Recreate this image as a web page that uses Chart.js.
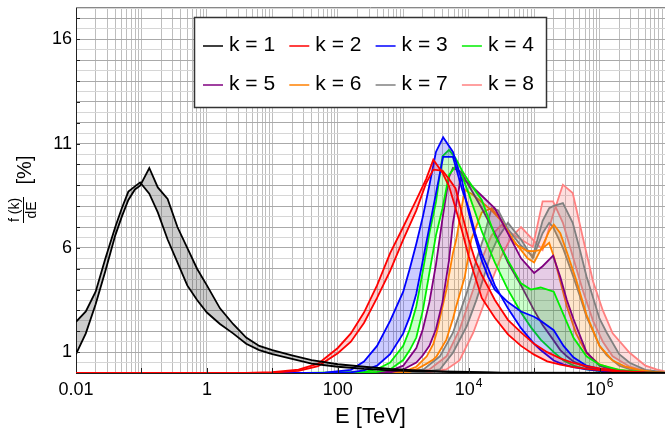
<!DOCTYPE html>
<html>
<head>
<meta charset="utf-8">
<script src="https://cdn.jsdelivr.net/npm/chart.js@4.4.1/dist/chart.umd.min.js"></script>
<style>
  body { margin: 0; background: #fff; }
</style>
</head>
<body>
<canvas id="myChart" width="665" height="432"></canvas>
<script>
const kLabels = ['k = 1', 'k = 2', 'k = 3', 'k = 4', 'k = 5', 'k = 6', 'k = 7', 'k = 8'];
const xTickValues = [0.01, 1, 100, 1e4, 1e6];
const xTickLabels = ['0.01', '1', '100', '10^4', '10^6'];
const yTickValues = [1, 6, 11, 16];

// log10(E / TeV) sample points and the two bounding curves of each band, in %
const logE1 = [-2, -1.85, -1.7, -1.55, -1.4, -1.3, -1.2, -1.1, -1.02, -0.88, -0.75, -0.6, -0.45, -0.3, -0.15, 0, 0.2, 0.4, 0.6, 0.8, 1.0, 1.3, 1.6, 2.0, 2.4, 2.8, 3.2, 3.6, 4.0, 4.5, 7];
const k1A = [2.45, 2.95, 3.9, 5.5, 7.0, 7.9, 8.7, 8.95, 9.14, 8.6, 7.7, 6.4, 5.3, 4.2, 3.5, 2.9, 2.35, 1.9, 1.4, 1.1, 0.9, 0.68, 0.45, 0.3, 0.2, 0.13, 0.08, 0.05, 0.03, 0.01, 0];
const k1B = [0.9, 1.9, 3.3, 4.9, 6.6, 7.5, 8.3, 8.8, 8.98, 9.83, 8.9, 8.35, 7.0, 6.0, 5.0, 4.2, 3.1, 2.35, 1.7, 1.3, 1.1, 0.85, 0.62, 0.42, 0.3, 0.2, 0.13, 0.08, 0.05, 0.02, 0];

const logE2 = [-2, 0.6, 1.0, 1.4, 1.7, 2.0, 2.2, 2.4, 2.6, 2.8, 3.0, 3.2, 3.35, 3.46, 3.6, 3.7, 3.8, 3.9, 4.0, 4.1, 4.2, 4.4, 4.6, 4.8, 5.0, 5.2, 5.4, 5.6, 5.8, 6.0, 6.3, 6.7, 7];
const k2A = [0, 0, 0.04, 0.16, 0.45, 1.2, 1.9, 2.9, 4.2, 5.75, 7.0, 8.3, 9.3, 10.23, 9.6, 8.95, 7.9, 6.8, 5.6, 4.6, 3.6, 2.65, 1.85, 1.3, 0.88, 0.56, 0.4, 0.28, 0.2, 0.14, 0.07, 0.02, 0];
const k2B = [0, 0, 0.02, 0.1, 0.33, 0.95, 1.5, 2.4, 3.6, 4.9, 6.4, 7.8, 9.1, 9.75, 9.7, 9.3, 8.85, 7.6, 6.4, 5.4, 4.7, 3.5, 2.55, 1.95, 1.4, 1.0, 0.7, 0.48, 0.33, 0.22, 0.1, 0.03, 0];

const logE3 = [-2, 1.0, 1.8, 2.2, 2.4, 2.6, 2.8, 3.0, 3.1, 3.2, 3.3, 3.4, 3.5, 3.61, 3.76, 3.9, 4.0, 4.1, 4.2, 4.3, 4.4, 4.6, 4.8, 5.0, 5.1, 5.3, 5.45, 5.6, 5.8, 6.0, 6.3, 6.7, 7];
const k3A = [0, 0, 0.02, 0.15, 0.55, 1.3, 2.5, 3.9, 5.0, 6.2, 7.5, 9.0, 10.6, 11.3, 10.6, 9.2, 7.7, 6.5, 5.4, 4.6, 4.0, 3.4, 2.95, 2.7, 2.5, 2.05, 1.3, 0.75, 0.35, 0.2, 0.08, 0.02, 0];
const k3B = [0, 0, 0, 0.03, 0.12, 0.35, 0.9, 1.9, 2.7, 3.8, 5.4, 7.0, 8.6, 10.36, 10.36, 8.8, 7.9, 6.7, 5.7, 5.0, 4.2, 3.1, 2.15, 1.4, 1.1, 0.6, 0.4, 0.28, 0.17, 0.1, 0.04, 0.01, 0];

const logE4 = [-2, 1.5, 2.4, 2.6, 2.8, 3.0, 3.1, 3.2, 3.3, 3.4, 3.5, 3.6, 3.7, 3.8, 3.9, 4.0, 4.2, 4.4, 4.6, 4.8, 4.95, 5.1, 5.3, 5.45, 5.6, 5.8, 6.0, 6.3, 6.7, 7];
const k4A = [0, 0, 0.05, 0.18, 0.5, 1.3, 2.1, 3.2, 4.9, 6.7, 8.2, 10.4, 10.7, 10.3, 9.7, 9.2, 8.3, 6.6, 5.4, 4.3, 4.0, 4.1, 3.9, 2.8, 1.7, 0.8, 0.4, 0.15, 0.04, 0];
const k4B = [0, 0, 0, 0.05, 0.17, 0.62, 1.1, 1.7, 3.0, 4.8, 6.6, 7.9, 9.5, 9.9, 9.45, 8.6, 6.8, 5.3, 4.0, 2.9, 2.2, 1.6, 1.0, 0.6, 0.36, 0.18, 0.1, 0.04, 0.01, 0];

const logE5 = [-2, 2.0, 2.6, 2.8, 3.0, 3.2, 3.3, 3.4, 3.5, 3.6, 3.7, 3.76, 3.88, 4.0, 4.2, 4.4, 4.6, 4.8, 5.0, 5.13, 5.29, 5.4, 5.5, 5.6, 5.8, 6.0, 6.2, 6.5, 7];
const k5A = [0, 0, 0.03, 0.1, 0.35, 1.2, 2.1, 3.4, 5.2, 7.4, 9.4, 9.83, 9.65, 9.0, 7.9, 6.7, 5.3, 4.2, 3.0, 2.3, 1.6, 1.1, 0.8, 0.55, 0.28, 0.13, 0.06, 0.02, 0];
const k5B = [0, 0, 0.01, 0.03, 0.17, 0.5, 0.85, 1.3, 2.1, 3.4, 5.4, 7.2, 9.35, 9.1, 8.5, 7.9, 6.7, 5.5, 4.8, 5.12, 5.63, 4.6, 3.5, 2.6, 1.0, 0.35, 0.15, 0.05, 0];

const logE6 = [-2, 2.4, 2.8, 3.1, 3.2, 3.36, 3.46, 3.51, 3.66, 3.76, 3.81, 3.94, 4.04, 4.2, 4.35, 4.5, 4.7, 4.9, 5.0, 5.1, 5.23, 5.3, 5.4, 5.5, 5.64, 5.8, 6.0, 6.2, 6.4, 6.6, 6.8, 7];
const k6A = [0, 0, 0.04, 0.17, 0.3, 0.8, 1.4, 1.93, 4.0, 5.76, 6.4, 8.79, 8.6, 8.2, 7.8, 7.3, 6.3, 5.5, 5.3, 5.9, 6.8, 7.12, 6.7, 5.8, 4.5, 2.8, 1.3, 0.6, 0.3, 0.15, 0.06, 0.02];
const k6B = [0, 0, 0.01, 0.06, 0.17, 0.45, 0.65, 0.8, 1.6, 2.6, 3.2, 4.6, 6.4, 7.7, 7.9, 7.3, 6.2, 5.85, 5.84, 5.9, 6.24, 5.6, 4.4, 3.2, 1.9, 0.95, 0.41, 0.2, 0.1, 0.05, 0.02, 0];

const logE7 = [-2, 2.6, 3.0, 3.31, 3.56, 3.76, 3.97, 4.12, 4.22, 4.35, 4.45, 4.6, 4.8, 4.98, 5.13, 5.23, 5.29, 5.44, 5.59, 5.7, 5.8, 6.0, 6.11, 6.3, 6.46, 6.7, 7];
const k7A = [0, 0, 0.05, 0.17, 0.8, 1.93, 3.84, 5.44, 6.4, 7.9, 7.8, 6.9, 6.1, 5.6, 7.3, 7.9, 8.0, 8.15, 7.2, 5.9, 4.64, 2.6, 1.93, 0.9, 0.49, 0.15, 0.03];
const k7B = [0, 0, 0.01, 0.04, 0.17, 0.97, 2.24, 3.52, 4.5, 5.8, 6.5, 7.2, 6.4, 5.5, 6.7, 7.2, 7.0, 6.0, 4.7, 3.68, 2.7, 1.3, 0.85, 0.35, 0.18, 0.06, 0.01];

const logE8 = [-2, 2.8, 3.2, 3.4, 3.66, 3.86, 4.07, 4.22, 4.35, 4.5, 4.65, 4.8, 4.98, 5.13, 5.29, 5.44, 5.59, 5.74, 5.9, 6.05, 6.2, 6.46, 6.7, 6.87, 7];
const k8A = [0, 0, 0.05, 0.17, 0.8, 2.08, 4.0, 5.6, 6.6, 7.1, 6.7, 6.4, 6.05, 8.23, 8.23, 7.2, 5.6, 4.0, 2.5, 1.5, 0.8, 0.3, 0.1, 0.05, 0.02];
const k8B = [0, 0, 0.01, 0.04, 0.17, 0.6, 1.93, 3.2, 4.4, 5.6, 6.5, 7.0, 6.4, 5.9, 7.6, 9.03, 8.63, 6.56, 4.4, 3.0, 1.9, 0.97, 0.35, 0.17, 0.08];

const lineColors = ['#000000', '#ff0000', '#0000ff', '#00ee00', '#800080', '#ff8000', '#808080', '#ff8080'];
const fillColors = ['rgba(0,0,0,0.2)', 'rgba(255,0,0,0.18)', 'rgba(0,0,255,0.2)', 'rgba(0,255,0,0.2)',
                    'rgba(128,0,128,0.2)', 'rgba(255,128,0,0.2)', 'rgba(128,128,128,0.28)', 'rgba(255,128,128,0.25)'];

const bands = [[logE1, k1A, k1B], [logE2, k2A, k2B], [logE3, k3A, k3B], [logE4, k4A, k4B],
               [logE5, k5A, k5B], [logE6, k6A, k6B], [logE7, k7A, k7B], [logE8, k8A, k8B]];

const FONT = '"Liberation Sans", Arial, sans-serif';
Chart.defaults.font.family = FONT;
Chart.defaults.color = '#000';

const datasets = [];
bands.forEach(([logE, a, b], i) => {
  const pts = arr => logE.map((l, j) => ({ x: Math.pow(10, l), y: arr[j] }));
  const common = { borderColor: lineColors[i], borderWidth: 1.8, pointRadius: 0, tension: 0 };
  datasets.push({ ...common, label: kLabels[i], data: pts(a), fill: false });
  datasets.push({ ...common, label: kLabels[i], data: pts(b), fill: '-1', backgroundColor: fillColors[i] });
});

// grid positions: 1..9 x 10^n on x, every 0.5 on y
const xGrid = [];
for (let e = -2; e <= 6; e++) for (let m = 1; m <= 9; m++) xGrid.push(m * Math.pow(10, e));
xGrid.push(1e7);
const yGrid = [];
for (let v = 0; v <= 17.5; v += 0.5) yGrid.push(v);

const extras = {
  id: 'extras',
  afterDraw(chart) {
    const { ctx, chartArea: a, scales: { x, y } } = chart;
    ctx.save();
    // top frame line
    ctx.strokeStyle = '#888';
    ctx.lineWidth = 1;
    ctx.beginPath();
    ctx.moveTo(a.left, a.top + 0.5);
    ctx.lineTo(a.right, a.top + 0.5);
    ctx.stroke();

    // small inward tick marks
    ctx.strokeStyle = '#222';
    ctx.beginPath();
    for (let e = -1; e <= 6; e++) {
      const px = Math.round(x.getPixelForValue(Math.pow(10, e))) + 0.5;
      ctx.moveTo(px, a.bottom);
      ctx.lineTo(px, a.bottom - 5);
    }
    for (let v = 1; v <= 17; v++) {
      const py = Math.round(y.getPixelForValue(v)) + 0.5;
      ctx.moveTo(a.left, py);
      ctx.lineTo(a.left + 4, py);
    }
    ctx.stroke();

    // x tick labels with superscript exponents
    ctx.fillStyle = '#000';
    ctx.textBaseline = 'alphabetic';
    ctx.textAlign = 'left';
    xTickValues.forEach((v, i) => {
      const [base, exp] = xTickLabels[i].split('^');
      ctx.font = '18px ' + FONT;
      const wb = ctx.measureText(base).width;
      let we = 0;
      if (exp) { ctx.font = '12px ' + FONT; we = ctx.measureText(exp).width + 1; }
      const left = x.getPixelForValue(v) - (wb + we) / 2;
      ctx.font = '18px ' + FONT;
      ctx.fillText(base, left, a.bottom + 22);
      if (exp) { ctx.font = '12px ' + FONT; ctx.fillText(exp, left + wb + 1, a.bottom + 14); }
    });

    // y axis title: fraction f(k)/dE and [%]
    ctx.save();
    ctx.translate(23, 210);
    ctx.rotate(-Math.PI / 2);
    ctx.textAlign = 'center';
    ctx.textBaseline = 'middle';
    ctx.font = '14px ' + FONT;
    ctx.fillText('f (k)', 0, -8);
    ctx.fillText('dE', 0, 9);
    ctx.strokeStyle = '#000';
    ctx.lineWidth = 1;
    ctx.beginPath();
    ctx.moveTo(-13, 0.5);
    ctx.lineTo(13, 0.5);
    ctx.stroke();
    ctx.font = '20px ' + FONT;
    ctx.fillText('[%]', 40, 2);
    ctx.restore();

    // legend box
    ctx.fillStyle = '#fff';
    ctx.fillRect(194.5, 17.5, 352, 90);
    ctx.strokeStyle = '#333';
    ctx.lineWidth = 1.5;
    ctx.strokeRect(194.5, 17.5, 352, 90);
    ctx.font = '21px ' + FONT;
    ctx.textBaseline = 'middle';
    ctx.textAlign = 'left';
    kLabels.forEach((t, i) => {
      const lx = 203 + (i % 4) * 86.3;
      const ly = 45 + Math.floor(i / 4) * 39;
      ctx.strokeStyle = lineColors[i];
      ctx.lineWidth = 1.5;
      ctx.beginPath();
      ctx.moveTo(lx, ly + 1);
      ctx.lineTo(lx + 20, ly + 1);
      ctx.stroke();
      ctx.fillStyle = '#000';
      ctx.fillText(t, lx + 26, ly);
    });
    ctx.restore();
  }
};

const ctx = document.getElementById('myChart');

new Chart(ctx, {
  type: 'line',
  data: { datasets: datasets },
  options: {
    responsive: false,
    animation: false,
    devicePixelRatio: 1,
    layout: { padding: { top: 7, right: 0, left: 0, bottom: 0 } },
    plugins: {
      legend: { display: false },
      tooltip: { enabled: false }
    },
    scales: {
      x: {
        type: 'logarithmic',
        min: 0.01,
        max: 1e7,
        afterBuildTicks: s => { s.ticks = xGrid.map(v => ({ value: v })); },
        afterFit: s => { s.height = 59; s.paddingLeft = 0; s.paddingRight = 0; },
        ticks: { display: false, autoSkip: false },
        grid: { color: '#bdbdbd', lineWidth: 1, drawTicks: false },
        border: { color: '#222', width: 1 },
        title: { display: true, text: 'E [TeV]', font: { size: 22 }, padding: { top: 0, bottom: 2 } }
      },
      y: {
        type: 'linear',
        min: 0,
        max: 17.55,
        afterBuildTicks: s => { s.ticks = yGrid.map(v => ({ value: v })); },
        afterFit: s => { s.width = 76; s.paddingTop = 0; s.paddingBottom = 0; },
        ticks: {
          autoSkip: false,
          padding: 4,
          font: { size: 18 },
          callback: v => (yTickValues.includes(v) ? String(v) : '')
        },
        grid: {
          drawTicks: false,
          color: c => (c.tick && c.tick.value % 1 === 0 ? '#aaaaaa' : '#d6d6d6')
        },
        border: { color: '#222', width: 1 }
      }
    }
  },
  plugins: [extras]
});
</script>
</body>
</html>
